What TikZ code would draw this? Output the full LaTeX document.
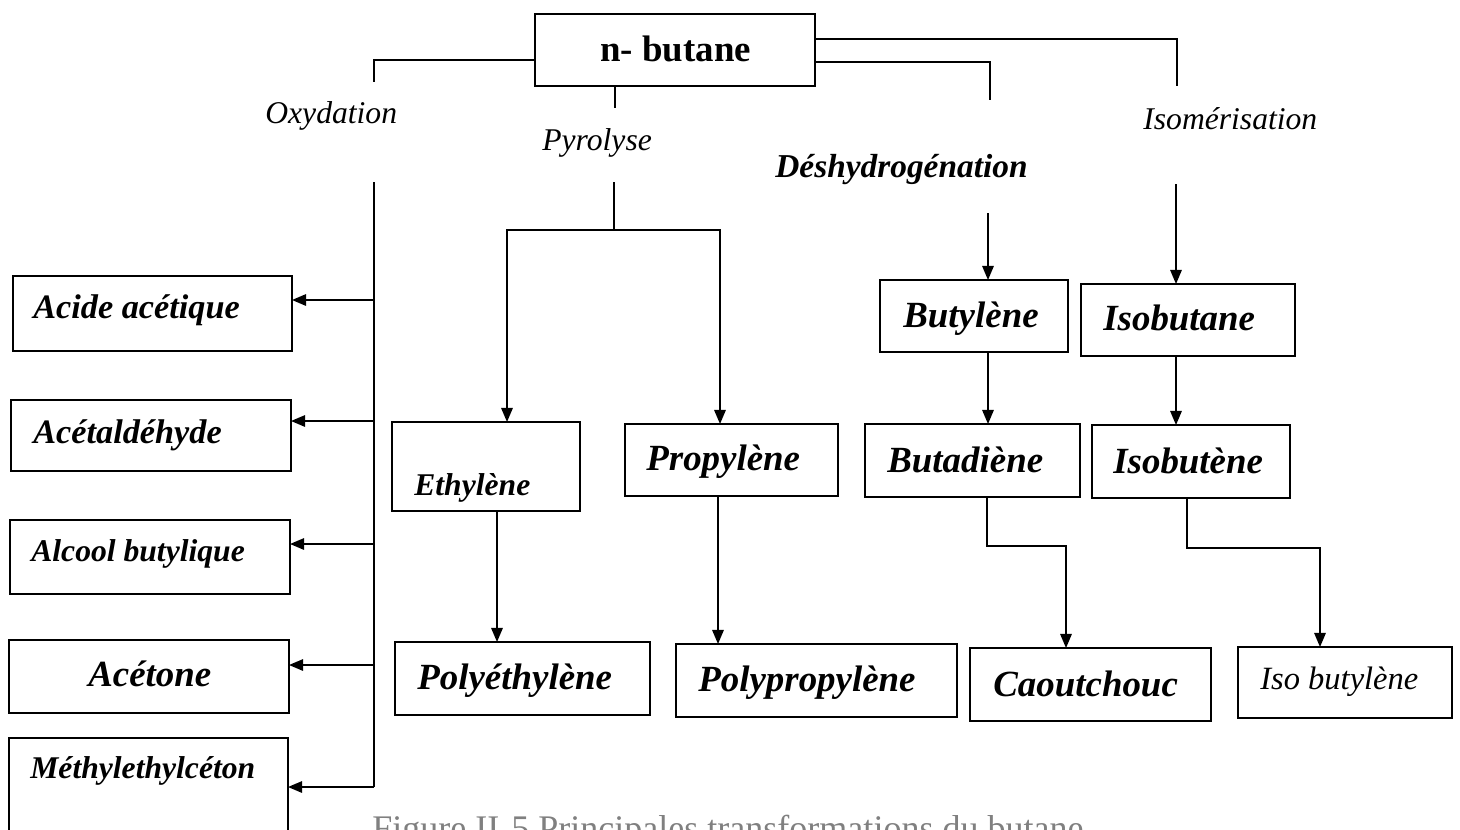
\documentclass[tikz,border=0pt]{standalone}
\usepackage{fontspec}
\setmainfont{Liberation Serif}
\usetikzlibrary{arrows.meta}
\tikzset{
  box/.style={draw, line width=1.1pt, inner sep=0pt, outer sep=0pt, fill=none},
  txt/.style={anchor=base west, inner sep=0pt, font=\bfseries\itshape\fontsize{21}{24}\selectfont},
  lbl/.style={anchor=base west, inner sep=0pt, font=\itshape\fontsize{18}{21}\selectfont},
  conn/.style={line width=1pt},
  arr/.style={line width=1pt, -{Triangle[length=8pt,width=6.5pt]}}
}
% #1 name, #2 x1, #3 y1, #4 x2, #5 y2, #6 text x, #7 text baseline y, #8 text, #9 extra text style
\newcommand{\mkbox}[9]{%
  \node[box, minimum width={(#4-#2)*0.02cm}, minimum height={(#5-#3)*0.02cm}] (#1) at ({(#2+#4)/2},{(#3+#5)/2}) {};
  \node[txt,#9] (#1-t) at (#6,#7) {#8};}
\begin{document}
\begin{tikzpicture}[x=0.02cm,y=-0.02cm]
\useasboundingbox (0,0) rectangle (1460,829);
\clip (0,0) rectangle (1460,829);
\fill[white] (0,0) rectangle (1460,829);

% top node
\mkbox{nb}{535}{14}{815}{86}{600}{61}{n- butane}{font=\bfseries\fontsize{21}{24}\selectfont}

% oxidation products
\mkbox{aa}{13}{276}{292}{351}{33}{318}{Acide acétique}{font=\bfseries\itshape\fontsize{19.5}{23}\selectfont}
\mkbox{ald}{11}{400}{291}{471}{33}{443}{Acétaldéhyde}{font=\bfseries\itshape\fontsize{19.5}{23}\selectfont}
\mkbox{alc}{10}{520}{290}{594}{31}{561}{Alcool butylique}{font=\bfseries\itshape\fontsize{18}{21}\selectfont}
\mkbox{ace}{9}{640}{289}{713}{88}{686}{Acétone}{}
\mkbox{mek}{9}{738}{288}{870}{30}{778}{Méthylethylcéton}{font=\bfseries\itshape\fontsize{18}{21}\selectfont}

% pyrolysis
\mkbox{eth}{392}{422}{580}{511}{414}{495}{Ethylène}{font=\bfseries\itshape\fontsize{18}{21}\selectfont}
\mkbox{prop}{625}{424}{838}{496}{646}{470}{Propylène}{}
\mkbox{pe}{395}{642}{650}{715}{417}{689}{Polyéthylène}{}
\mkbox{pp}{676}{644}{957}{717}{698}{691}{Polypropylène}{}

% dehydrogenation
\mkbox{buty}{880}{280}{1068}{352}{903}{327}{Butylène}{}
\mkbox{butad}{865}{424}{1080}{497}{887}{472}{Butadiène}{}
\mkbox{caou}{970}{648}{1211}{721}{993}{696}{Caoutchouc}{}

% isomerisation
\mkbox{isoa}{1081}{284}{1295}{356}{1103}{330}{Isobutane}{}
\mkbox{isoe}{1092}{425}{1290}{498}{1113}{473}{Isobutène}{}
\mkbox{isobl}{1238}{647}{1452}{718}{1260}{689}{Iso butylène}{font=\itshape\fontsize{18.5}{21}\selectfont}

% process labels
\node[lbl] (ox) at (265,123) {Oxydation};
\node[lbl] (py) at (542,150) {Pyrolyse};
\node[lbl, font=\bfseries\itshape\fontsize{19}{22}\selectfont] (de) at (775,177) {Déshydrogénation};
\node[lbl] (is) at (1143,129) {Isomérisation};

% coordinates
\coordinate (oxA) at (374,60);  \coordinate (oxB) at (374,82);
\coordinate (oxC) at (374,182); \coordinate (oxD) at (374,787);
\coordinate (pyB) at (615,108);
\coordinate (pyC) at (614,182); \coordinate (pyD) at (614,230);
\coordinate (deA) at (990,62);  \coordinate (deB) at (990,100);
\coordinate (deC) at (988,213);
\coordinate (isA) at (1177,39); \coordinate (isB) at (1177,86);
\coordinate (isC) at (1176,184);
\coordinate (bdA) at (987,546);
\coordinate (ieA) at (1187,548);

% Oxydation branch
\draw[conn] (nb.west |- oxA) -- (oxA) -- (oxB);
\draw[conn] (oxC) -- (oxD);
\draw[arr] (374,300) -- (aa.east |- 0,300);
\draw[arr] (374,421) -- (ald.east |- 0,421);
\draw[arr] (374,544) -- (alc.east |- 0,544);
\draw[arr] (374,665) -- (ace.east |- 0,665);
\draw[arr] (oxD) -- (mek.east |- oxD);

% Pyrolyse branch
\draw[conn] (nb.south -| pyB) -- (pyB);
\draw[conn] (pyC) -- (pyD);
\draw[arr] (pyD) -| (eth.north -| 507,0);
\draw[arr] (pyD) -| (prop.north -| 720,0);
\draw[arr] (eth.south -| 497,0) -- (pe.north -| 497,0);
\draw[arr] (prop.south -| 718,0) -- (pp.north -| 718,0);

% Deshydrogenation branch
\draw[conn] (nb.east |- deA) -- (deA) -- (deB);
\draw[arr] (deC) -- (buty.north -| deC);
\draw[arr] (buty.south -| 988,0) -- (butad.north -| 988,0);
\draw[arr] (butad.south -| bdA) -- (bdA) -| (caou.north -| 1066,0);

% Isomerisation branch
\draw[conn] (nb.east |- isA) -- (isA) -- (isB);
\draw[arr] (isC) -- (isoa.north -| isC);
\draw[arr] (isoa.south -| 1176,0) -- (isoe.north -| 1176,0);
\draw[arr] (isoe.south -| ieA) -- (ieA) -| (isobl.north -| 1320,0);

% caption (cut by the page edge, as in the reference)
\node[anchor=base west, inner sep=0pt, text=black!50, font=\fontsize{20.5}{23}\selectfont] (cap) at (372,840) {Figure II-5 Principales transformations du butane};
\end{tikzpicture}
\end{document}
